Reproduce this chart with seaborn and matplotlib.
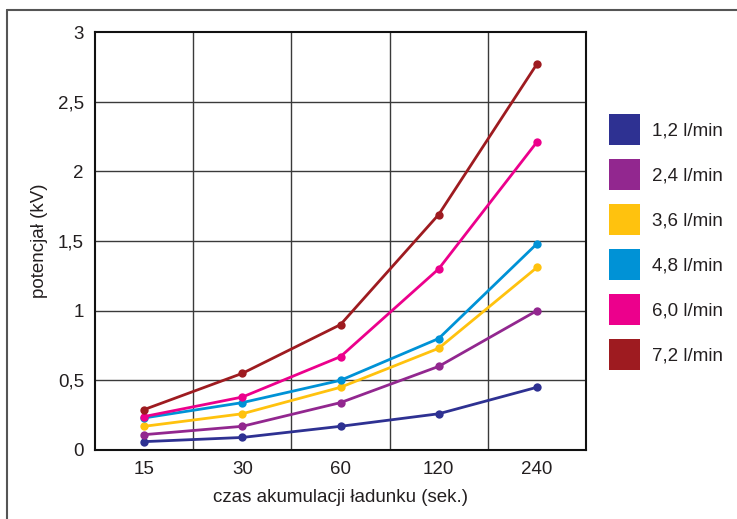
import numpy as np
import pandas as pd
import seaborn as sns
import matplotlib
matplotlib.use("Agg")
import matplotlib.pyplot as plt
from matplotlib.patches import Patch
from matplotlib.lines import Line2D

# ---- data ----
times = ["15", "30", "60", "120", "240"]
series = ["1,2 l/min", "2,4 l/min", "3,6 l/min", "4,8 l/min", "6,0 l/min", "7,2 l/min"]
v_12 = [0.06, 0.09, 0.17, 0.26, 0.45]
v_24 = [0.11, 0.17, 0.34, 0.60, 1.00]
v_36 = [0.17, 0.26, 0.45, 0.73, 1.31]
v_48 = [0.23, 0.34, 0.50, 0.80, 1.48]
v_60 = [0.24, 0.38, 0.67, 1.30, 2.21]
v_72 = [0.29, 0.55, 0.90, 1.69, 2.77]
colors = ["#2E3192", "#92278F", "#FFC20E", "#0092D6", "#EC008C", "#9E1B20"]
y_ticks = [0, 0.5, 1, 1.5, 2, 2.5, 3]
y_tick_labels = ["0", "0,5", "1", "1,5", "2", "2,5", "3"]

values = [v_12, v_24, v_36, v_48, v_60, v_72]
rows = []
for s, vals in zip(series, values):
    for i, (t, v) in enumerate(zip(times, vals)):
        rows.append({"pos": i, "czas": t, "seria": s, "val": v})
df = pd.DataFrame(rows)

sns.set_theme(style="white")
plt.rcParams["font.family"] = ["Liberation Sans", "DejaVu Sans"]
txt = "#231F20"
fs = 13.5

fig = plt.figure(figsize=(7.37, 5.19), dpi=100)
ax = fig.add_axes([95 / 737, 1 - 450 / 519, (586 - 95) / 737, (450 - 32) / 519])

sns.lineplot(data=df, x="pos", y="val", hue="seria", hue_order=series,
             palette=colors, marker="o", markersize=6, markeredgewidth=0,
             linewidth=2, ax=ax, legend=False, zorder=3)

ax.set_xlim(-0.5, 4.5)
ax.set_ylim(0, 3)
ax.set_xticks(range(len(times)))
ax.set_xticklabels(times)
ax.set_yticks(y_ticks)
ax.set_yticklabels(y_tick_labels)
ax.tick_params(axis="both", labelsize=fs, colors=txt, length=0)
ax.tick_params(axis="x", pad=8)
ax.tick_params(axis="y", pad=8)
for lab in ax.get_xticklabels() + ax.get_yticklabels():
    lab.set_color(txt)

# grid
for xv in [0.5, 1.5, 2.5, 3.5]:
    ax.axvline(xv, color="#3a3a3a", lw=1, zorder=1)
for yv in y_ticks[1:-1]:
    ax.axhline(yv, color="#3a3a3a", lw=1, zorder=1)
for sp in ax.spines.values():
    sp.set_visible(True)
    sp.set_color("#111111")
    sp.set_linewidth(1.5)

ax.set_xlabel("czas akumulacji ładunku (sek.)", fontsize=fs, color=txt, labelpad=8)
ax.set_ylabel("potencjał (kV)", fontsize=fs, color=txt, labelpad=7)

# legend
handles = [Patch(facecolor=c, edgecolor="none") for c in colors]
fig.legend(handles, series, loc="upper left",
           bbox_to_anchor=(609 / 737, 1 - 114 / 519), frameon=False,
           fontsize=fs, handlelength=1.65, handleheight=2.166,
           labelspacing=0.75, handletextpad=0.64, borderpad=0,
           borderaxespad=0, labelcolor=txt)

# outer border (left and top)
fig.add_artist(Line2D([7 / 737, 7 / 737], [0, 1 - 10 / 519], color="#555555", lw=1.5))
fig.add_artist(Line2D([7 / 737, 1], [1 - 10 / 519, 1 - 10 / 519], color="#555555", lw=1.5))

fig.savefig("out.png", dpi=100)
